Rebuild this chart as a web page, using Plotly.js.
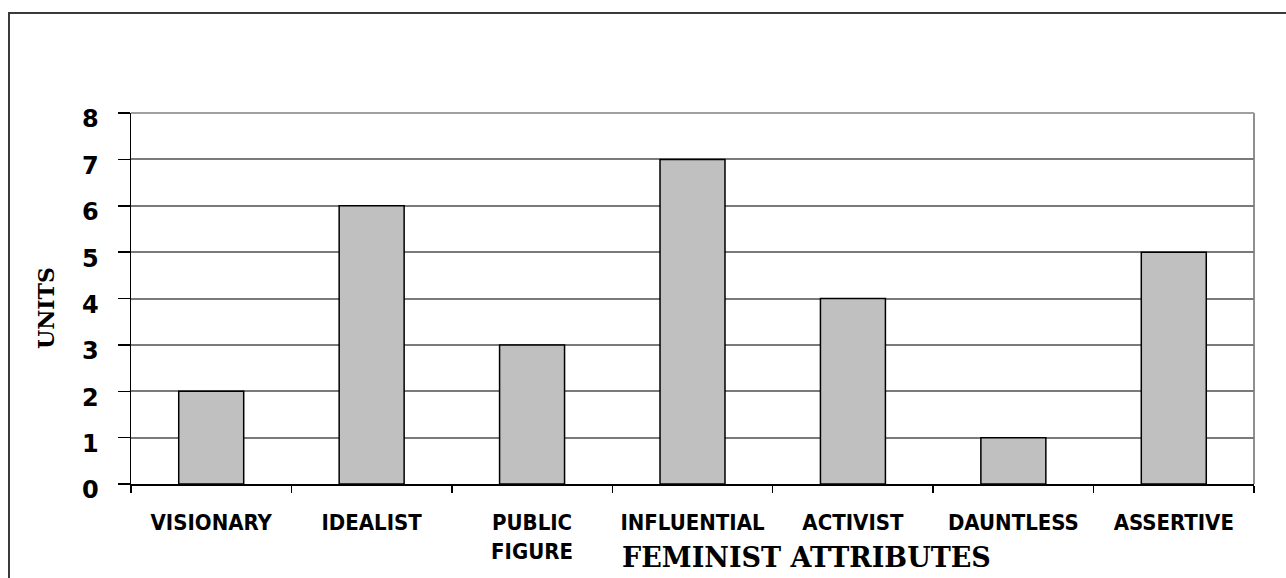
<!DOCTYPE html>
<html>
<head>
<meta charset="utf-8">
<script src="https://cdn.plot.ly/plotly-3.0.1.min.js"></script>
<style>html,body{margin:0;padding:0;background:#fff;}#chart{width:1286px;height:578px;}</style>
</head>
<body>
<div id="chart"></div>
<script>
const categories = ["VISIONARY", "IDEALIST", "PUBLIC<br>FIGURE", "INFLUENTIAL", "ACTIVIST", "DAUNTLESS", "ASSERTIVE"];
const units = [2, 6, 3, 7, 4, 1, 5];
const yTicks = [0, 1, 2, 3, 4, 5, 6, 7, 8];

const W = 1286, H = 578;
const L = 131, R = 1254, T = 113, B = 484;
const pw = R - L, ph = B - T;
const px = x => (x - L) / pw;
const py = y => (B - y) / ph;

const trace = {
  type: 'bar',
  x: categories,
  y: units,
  marker: {color: '#c0c0c0', line: {color: '#000000', width: 1.5}},
  hoverinfo: 'skip'
};

const layout = {
  width: W, height: H,
  margin: {l: L, r: W - R, t: T, b: H - B, pad: 0},
  paper_bgcolor: '#ffffff',
  plot_bgcolor: '#ffffff',
  showlegend: false,
  bargap: 0.595,
  xaxis: {
    type: 'category',
    tickson: 'boundaries',
    ticks: 'outside', ticklen: 7, tickwidth: 1.5, tickcolor: '#000',
    showline: true, linecolor: '#000', linewidth: 1.5,
    showgrid: false, zeroline: false,
    ticklabelstandoff: 18,
    tickfont: {family: 'Liberation Sans Narrow, DejaVu Sans Condensed, Arial Narrow, sans-serif', size: 22, color: '#000', weight: 'bold'},
    fixedrange: true
  },
  yaxis: {
    range: [0, 8],
    tickvals: yTicks,
    ticktext: yTicks.map(String),
    ticks: 'outside', ticklen: 12, tickwidth: 1.5, tickcolor: '#000',
    showline: true, linecolor: '#000', linewidth: 1.5,
    showgrid: true, gridcolor: '#7a7a7a', gridwidth: 2,
    zeroline: false,
    ticklabelstandoff: 14,
    ticklabelshift: 6,
    tickfont: {family: 'DejaVu Sans, Arial, sans-serif', size: 24, color: '#000', weight: 'bold'},
    fixedrange: true
  },
  shapes: [
    {type: 'line', xref: 'paper', yref: 'paper', x0: 0, x1: 1, y0: 1, y1: 1, line: {color: '#a0a0a0', width: 2}, layer: 'above'},
    {type: 'line', xref: 'paper', yref: 'paper', x0: 1, x1: 1, y0: 0, y1: 1, line: {color: '#909090', width: 2}, layer: 'below'},
    {type: 'rect', xref: 'paper', yref: 'paper', x0: px(9), x1: px(1300), y0: py(600), y1: py(13), line: {color: '#3a3a3a', width: 2}, fillcolor: 'rgba(0,0,0,0)'}
  ],
  annotations: [
    {xref: 'paper', yref: 'paper', x: px(806), y: py(557), xanchor: 'center', yanchor: 'middle', showarrow: false,
     text: '<b>FEMINIST ATTRIBUTES</b>', font: {family: 'DejaVu Serif, serif', size: 27, color: '#000', weight: 'bold'}},
    {xref: 'paper', yref: 'paper', x: px(46), y: py(308), xanchor: 'center', yanchor: 'middle', showarrow: false, textangle: -90,
     text: '<b>UNITS</b>', font: {family: 'DejaVu Serif, serif', size: 22, color: '#000', weight: 'bold'}}
  ]
};

Plotly.newPlot('chart', [trace], layout, {displayModeBar: false, staticPlot: true});
</script>
</body>
</html>
